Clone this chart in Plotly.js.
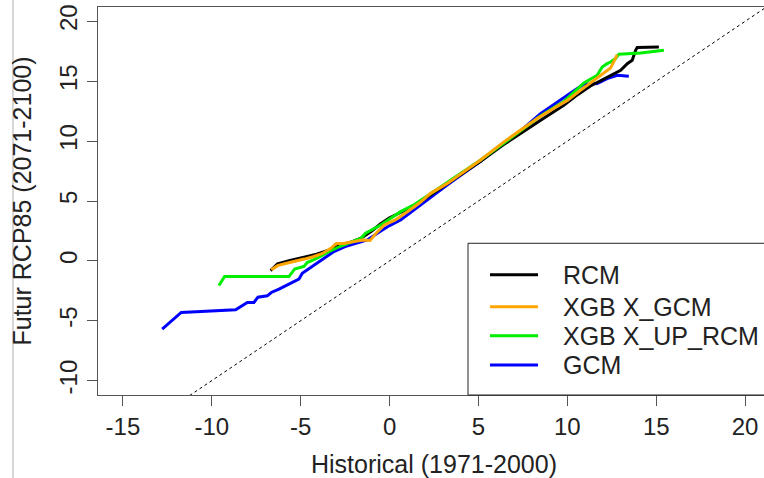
<!DOCTYPE html>
<html>
<head>
<meta charset="utf-8">
<script src="https://cdn.plot.ly/plotly-3.0.1.min.js"></script>
<style>
  html, body { margin: 0; padding: 0; overflow: hidden; background: #ffffff; }
  #chart { width: 770px; height: 478px; }
</style>
</head>
<body>
<div id="chart"></div>
<script>
// Quantile-quantile curves: historical (1971-2000) vs future RCP85 (2071-2100)
const seriesNames = ["RCM", "XGB X_GCM", "XGB X_UP_RCM", "GCM"];
const seriesColors = ["#000000", "#FFA500", "#00EE00", "#0000FF"];

const rcmX = [-6.69, -6.3, -5.6, -4.8, -4.1, -3.3, -2.8, -2.2, -1.6, -1.0, -0.5, 0.0, 0.6, 1.4, 2.3, 3.2, 4.2, 5.1, 6.4, 7.4, 8.5, 9.8, 10.6, 11.3, 12.24, 12.62, 13.0, 13.37, 13.65, 13.84, 13.93, 15.15];
const rcmY = [-0.81, -0.25, 0.03, 0.31, 0.55, 0.95, 1.3, 1.55, 1.9, 2.5, 3.1, 3.6, 4.0, 4.6, 5.5, 6.4, 7.4, 8.3, 9.7, 10.7, 11.75, 13.0, 13.9, 14.6, 15.36, 15.64, 15.92, 16.47, 16.75, 17.58, 17.81, 17.86];

const xgbGcmX = [-6.65, -6.3, -5.8, -5.3, -4.8, -4.3, -3.8, -3.3, -3.0, -2.6, -2.0, -1.5, -1.1, -0.7, -0.3, 0.3, 1.0, 1.7, 2.31, 3.25, 4.18, 5.12, 6.43, 7.37, 8.31, 9.2, 10.0, 10.7, 11.5, 12.15, 12.43, 12.81];
const xgbGcmY = [-0.75, -0.4, -0.2, -0.05, 0.15, 0.35, 0.6, 1.05, 1.45, 1.45, 1.6, 1.75, 1.7, 2.4, 3.0, 3.4, 4.1, 4.85, 5.64, 6.47, 7.44, 8.42, 9.94, 10.92, 11.89, 12.7, 13.4, 14.2, 15.05, 15.78, 16.1, 17.22];

const xgbUpRcmX = [-9.6, -9.28, -5.66, -5.34, -4.82, -4.63, -4.07, -3.5, -2.8, -2.2, -1.6, -1.35, -1.0, -0.5, 0.62, 1.4, 2.3, 3.2, 4.2, 5.1, 6.4, 7.4, 8.49, 9.8, 10.93, 11.68, 11.96, 12.24, 12.43, 12.71, 12.9, 14.12, 15.43];
const xgbUpRcmY = [-2.06, -1.31, -1.31, -0.69, -0.47, -0.14, 0.22, 0.7, 1.2, 1.55, 1.9, 2.31, 2.6, 3.0, 4.11, 4.7, 5.6, 6.5, 7.5, 8.4, 9.8, 10.9, 12.1, 13.3, 14.86, 15.5, 16.19, 16.47, 16.61, 16.89, 17.25, 17.36, 17.58];

const gcmX = [-12.79, -11.72, -8.66, -8.0, -7.63, -7.4, -6.88, -6.65, -6.22, -5.85, -5.38, -5.1, -4.91, -4.63, -4.26, -3.88, -3.41, -3.13, -2.5, -1.8, -1.25, -0.6, 0.0, 0.62, 1.4, 2.31, 3.2, 4.2, 5.1, 6.4, 7.4, 8.49, 9.62, 10.37, 10.93, 11.68, 12.24, 12.81, 13.46];
const gcmY = [-5.69, -4.31, -4.08, -3.47, -3.47, -3.03, -2.92, -2.64, -2.36, -2.08, -1.69, -1.53, -1.03, -0.75, -0.33, 0.03, 0.5, 0.78, 1.2, 1.5, 1.75, 2.4, 2.95, 3.42, 4.3, 5.36, 6.3, 7.35, 8.3, 9.8, 10.9, 12.3, 13.4, 14.2, 14.75, 14.81, 15.22, 15.5, 15.42];

// Reference 1:1 line
const diagX = [-30, 30];
const diagY = [-30, 30];

const xTicks = [-15, -10, -5, 0, 5, 10, 15, 20];
const yTicks = [-10, -5, 0, 5, 10, 15, 20];

const FONT = "Liberation Sans, Arial, Helvetica, sans-serif";
const TEXT = "#222222";

function curve(x, y, i) {
  return {
    x: x, y: y, type: "scatter", mode: "lines",
    name: seriesNames[i], showlegend: false,
    line: { color: seriesColors[i], width: 3 },
    hoverinfo: "skip"
  };
}

const traces = [
  { x: diagX, y: diagY, type: "scatter", mode: "lines", showlegend: false,
    line: { color: "#000000", width: 1, dash: "dot" }, hoverinfo: "skip" },
  curve(gcmX, gcmY, 3),
  curve(rcmX, rcmY, 0),
  curve(xgbUpRcmX, xgbUpRcmY, 2),
  curve(xgbGcmX, xgbGcmY, 1)
];

const axisCommon = {
  showgrid: false, zeroline: false,
  showline: true, linecolor: "#555555", linewidth: 1, mirror: true,
  ticks: "outside", ticklen: 10, tickcolor: "#555555", tickwidth: 1,
  tickfont: { family: FONT, size: 24, color: TEXT },
  fixedrange: true
};

// Legend box in the bottom-right corner of the plotting region (paper units)
const legendBox = { x0: 0.5506, x1: 1.05, y0: 0, y1: 0.391 };
const legendKeyX = [0.5833, 0.6548];   // key line start / end
const legendTextX = 0.6890;
const legendRowY = [0.3098, 0.2275, 0.1529, 0.0772];
const legendOrder = [0, 1, 2, 3];

const shapes = [
  { type: "rect", xref: "paper", yref: "paper",
    x0: legendBox.x0, x1: legendBox.x1, y0: legendBox.y0, y1: legendBox.y1,
    line: { color: "#222222", width: 1 }, fillcolor: "rgba(0,0,0,0)", layer: "above" },
  // thin gray border on the far left
  { type: "line", xref: "paper", yref: "paper", x0: -0.1265, x1: -0.1265, y0: -0.22, y1: 1.03,
    line: { color: "#b0b0b0", width: 1 } }
];
const annotations = [];
legendOrder.forEach(function (s, k) {
  shapes.push({ type: "line", xref: "paper", yref: "paper",
    x0: legendKeyX[0], x1: legendKeyX[1], y0: legendRowY[k], y1: legendRowY[k],
    line: { color: seriesColors[s], width: 3 }, layer: "above" });
  annotations.push({ xref: "paper", yref: "paper", x: legendTextX, y: legendRowY[k],
    xanchor: "left", yanchor: "middle", showarrow: false, text: seriesNames[s],
    font: { family: FONT, size: 25, color: TEXT } });
});

const layout = {
  width: 770, height: 478,
  margin: { l: 98, r: 0, t: 7, b: 83 },
  paper_bgcolor: "#ffffff", plot_bgcolor: "#ffffff",
  font: { family: FONT, size: 24, color: TEXT },
  showlegend: false,
  xaxis: Object.assign({}, axisCommon, {
    range: [-16.4, 21.4], tickmode: "array", tickvals: xTicks,
    ticktext: xTicks.map(String),
    title: { text: "Historical (1971-2000)", font: { family: FONT, size: 25, color: TEXT }, standoff: 16 }
  }),
  yaxis: Object.assign({}, axisCommon, {
    range: [-11.2, 21.2], tickmode: "array", tickvals: yTicks,
    ticktext: yTicks.map(String), tickangle: -90,
    title: { text: "Futur RCP85 (2071-2100)", font: { family: FONT, size: 25, color: TEXT }, standoff: 16 }
  }),
  shapes: shapes,
  annotations: annotations
};

Plotly.newPlot("chart", traces, layout, { staticPlot: true, displayModeBar: false });
</script>
</body>
</html>
